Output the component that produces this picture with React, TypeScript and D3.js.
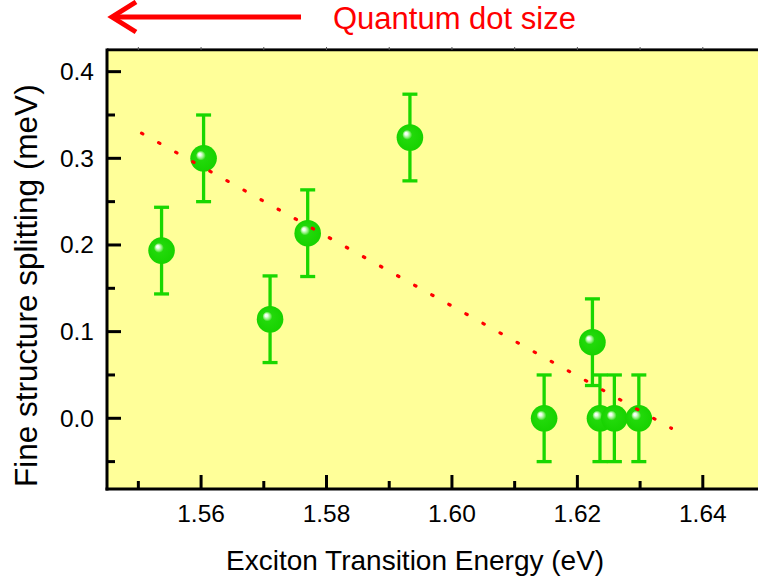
import React from "react";
import * as d3 from "d3";

const WIDTH = 758;
const HEIGHT = 585;
const FONT = "'Liberation Sans', Arial, Helvetica, sans-serif";

// plot box in pixels (right side runs off the picture)
const BOX = { left: 107, right: 758, top: 50, bottom: 489 };

// measured points: exciton energy (eV) and fine structure splitting (meV)
const energy = [1.5537, 1.5604, 1.571, 1.577, 1.5933, 1.6147, 1.6224, 1.6236, 1.6259, 1.6298];
const splitting = [0.1935, 0.3, 0.1143, 0.2136, 0.324, 0.0, 0.0878, 0.0, 0.0, 0.0];
const errorBar = [0.05, 0.05, 0.05, 0.05, 0.05, 0.05, 0.05, 0.05, 0.05, 0.05];

// dotted guide line, two ends
const fitEnergy = [1.5505, 1.635];
const fitSplitting = [0.329, -0.0115];

const xMajorTicks = [1.56, 1.58, 1.6, 1.62, 1.64];
const xMinorTicks = [1.55, 1.57, 1.59, 1.61, 1.63];
const yMajorTicks = [0.0, 0.1, 0.2, 0.3, 0.4];
const yMinorTicks = [-0.05, 0.05, 0.15, 0.25, 0.35];
const topTicks = [1.55, 1.56, 1.57, 1.58, 1.59, 1.6, 1.61, 1.62, 1.63, 1.64];

const GREEN = "#19d700";
const RED = "#ff0000";

const App = () => {
  const xScale = d3.scaleLinear().domain([1.545, 1.6488]).range([BOX.left, BOX.right]);
  const yScale = d3.scaleLinear().domain([-0.0816, 0.425]).range([BOX.bottom, BOX.top]);

  const points = energy.map((e, i) => ({ e, v: splitting[i], err: errorBar[i] }));

  const fitLine = d3
    .line<number>()
    .x((d) => xScale(d))
    .y((d, i) => yScale(fitSplitting[i]));

  const R = 13.3;
  const CAP = 7.5;

  return (
    <svg
      width={WIDTH}
      height={HEIGHT}
      style={{ position: "absolute", left: 0, top: 0, background: "#ffffff" }}
      fontFamily={FONT}
    >
      <defs>
        <radialGradient id="ball" cx="0.5" cy="0.5" r="0.5" fx="0.34" fy="0.34">
          <stop offset="0" stopColor="#ffffff" />
          <stop offset="0.1" stopColor="#f2fff0" />
          <stop offset="0.25" stopColor="#8cef78" />
          <stop offset="0.37" stopColor="#22d90a" />
          <stop offset="1" stopColor="#17d200" />
        </radialGradient>
      </defs>

      {/* arrow + caption */}
      <g stroke={RED} fill="none" strokeWidth={5}>
        <line x1={112} y1={17} x2={301} y2={17} />
        <polyline points="136,2 112,17 136,32" strokeLinejoin="miter" />
      </g>
      <text x={333} y={29} fontSize={31} fill={RED}>
        Quantum dot size
      </text>

      {/* plot background */}
      <rect
        x={BOX.left}
        y={BOX.top}
        width={BOX.right - BOX.left}
        height={BOX.bottom - BOX.top}
        fill="#ffff99"
      />

      {/* error bars */}
      {points.map((d, i) => (
        <g key={"eb" + i} stroke={GREEN} strokeWidth={3.3}>
          <line x1={xScale(d.e)} x2={xScale(d.e)} y1={yScale(d.v + d.err)} y2={yScale(d.v - d.err)} />
          <line x1={xScale(d.e) - CAP} x2={xScale(d.e) + CAP} y1={yScale(d.v + d.err)} y2={yScale(d.v + d.err)} />
          <line x1={xScale(d.e) - CAP} x2={xScale(d.e) + CAP} y1={yScale(d.v - d.err)} y2={yScale(d.v - d.err)} />
        </g>
      ))}

      {/* spheres */}
      {points.map((d, i) => (
        <circle key={"pt" + i} cx={xScale(d.e)} cy={yScale(d.v)} r={R} fill="url(#ball)" />
      ))}

      {/* dotted red line */}
      <path
        d={fitLine(fitEnergy) || ""}
        fill="none"
        stroke={RED}
        strokeWidth={3.2}
        strokeLinecap="round"
        strokeDasharray="1.5 18.04"
      />

      {/* frame */}
      <line x1={BOX.left} x2={BOX.right} y1={BOX.top - 1.5} y2={BOX.top - 1.5} stroke="#888" strokeWidth={1} />
      <line x1={BOX.left} x2={BOX.right} y1={BOX.top} y2={BOX.top} stroke="#000" strokeWidth={2.5} />
      {topTicks.map((t, i) => (
        <line key={"tt" + i} x1={xScale(t)} x2={xScale(t)} y1={BOX.top - 3} y2={BOX.top} stroke="#555" strokeWidth={1} />
      ))}
      <line x1={BOX.left} x2={BOX.left} y1={BOX.top - 1.5} y2={BOX.bottom + 1.5} stroke="#000" strokeWidth={3} />
      <line x1={BOX.left - 1.5} x2={BOX.right} y1={BOX.bottom} y2={BOX.bottom} stroke="#000" strokeWidth={3} />

      {/* x ticks */}
      {xMajorTicks.map((t, i) => (
        <g key={"xM" + i}>
          <line x1={xScale(t)} x2={xScale(t)} y1={BOX.bottom} y2={BOX.bottom - 14} stroke="#000" strokeWidth={3} />
          <text x={xScale(t)} y={522} fontSize={24.5} textAnchor="middle" fill="#000">
            {t.toFixed(2)}
          </text>
        </g>
      ))}
      {xMinorTicks.map((t, i) => (
        <line key={"xm" + i} x1={xScale(t)} x2={xScale(t)} y1={BOX.bottom} y2={BOX.bottom - 8} stroke="#000" strokeWidth={3} />
      ))}

      {/* y ticks */}
      {yMajorTicks.map((t, i) => (
        <g key={"yM" + i}>
          <line x1={BOX.left} x2={BOX.left + 14} y1={yScale(t)} y2={yScale(t)} stroke="#000" strokeWidth={3} />
          <text x={94} y={yScale(t) + 8.5} fontSize={24.5} textAnchor="end" fill="#000">
            {t.toFixed(1)}
          </text>
        </g>
      ))}
      {yMinorTicks.map((t, i) => (
        <line key={"ym" + i} x1={BOX.left} x2={BOX.left + 8} y1={yScale(t)} y2={yScale(t)} stroke="#000" strokeWidth={3} />
      ))}

      {/* axis titles */}
      <text x={226} y={570} fontSize={28} fill="#000">
        Exciton Transition Energy (eV)
      </text>
      <text transform="translate(37,487) rotate(-90)" fontSize={31.5} fill="#000">
        Fine structure splitting (meV)
      </text>
    </svg>
  );
};

export default App;
